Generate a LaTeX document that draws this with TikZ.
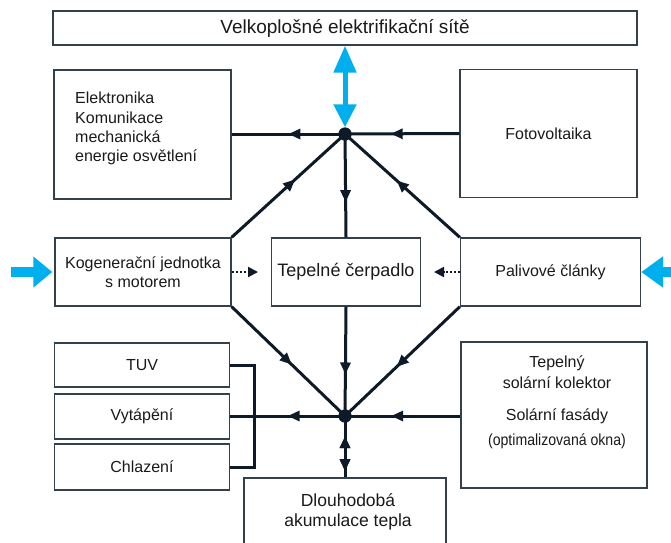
\documentclass[tikz,border=0pt]{standalone}
\usepackage{fontspec}
\setmainfont{Liberation Sans}
\newfontfamily\narrowsans[FakeStretch=0.88]{Liberation Sans}
\usetikzlibrary{arrows.meta,decorations.markings}
\definecolor{linec}{HTML}{0E1A28}
\definecolor{boxc}{HTML}{34404A}
\definecolor{bluec}{HTML}{00B0EE}
\definecolor{txtc}{HTML}{1A1A1A}
\begin{document}
\begin{tikzpicture}[x=1pt,y=-1pt,
  box/.style={draw=boxc, line width=1.4pt, fill=white, inner sep=0pt, text=txtc,
    font=\fontsize{16}{19.3}\selectfont, align=center},
  txt/.style={text=txtc, font=\fontsize{16}{19.3}\selectfont, inner sep=0pt},
  flow/.style={draw=linec, line width=3pt},
  tipk/.tip={Triangle[length=12pt,width=10pt]},
  midarr/.style={postaction={decorate}, decoration={markings,
    mark=at position #1 with {\arrow{tipk}}}},
  midrev/.style={postaction={decorate}, decoration={markings,
    mark=at position #1 with {\arrowreversed{tipk}}}},
  dot/.style={circle, fill=linec, inner sep=0pt, minimum size=13pt},
  bluearr/.style={draw=bluec, color=bluec}
]
\useasboundingbox (0,0) rectangle (671,542);

% boxes
\node[box, minimum width=584pt, minimum height=34pt, font=\fontsize{19}{22}\selectfont] (grid) at (345,28) {Velkoplošné elektrifikační sítě};
\node[box, minimum width=177pt, minimum height=129pt] (elek) at (142.5,134.5) {};
\node[txt, align=left, anchor=west] at (75,129) {\begin{tabular}{@{}l@{}}Elektronika\\Komunikace\\mechanická\\energie osvětlení\end{tabular}};
\node[box, minimum width=177pt, minimum height=128pt] (foto) at (548.5,133.5) {Fotovoltaika};
\node[box, minimum width=176pt, minimum height=68pt] (kog) at (143,272) {Kogenerační jednotka\\s motorem};
\node[box, minimum width=149pt, minimum height=68pt, font=\fontsize{18}{21}\selectfont] (cerp) at (346,272) {Tepelné čerpadlo};
\node[box, minimum width=180pt, minimum height=68pt] (pal) at (550.5,272) {Palivové články};
\node[box, minimum width=175pt, minimum height=44pt] (tuv) at (142,365) {TUV};
\node[box, minimum width=175pt, minimum height=45pt] (vyt) at (142,416.5) {Vytápění};
\node[box, minimum width=175pt, minimum height=46pt] (chl) at (142,467) {Chlazení};
\node[box, minimum width=186pt, minimum height=146pt] (sol) at (554,415) {};
\node[txt, align=center] at (557,402) {Tepelný\\[2pt]solární kolektor\\[13pt]Solární fasády\\[5pt]{\narrowsans\fontsize{16}{19}\selectfont(optimalizovaná okna)}};
\node[box, minimum width=202pt, minimum height=76pt] (dl) at (345,516) {};
\node[txt, align=center, font=\fontsize{17.5}{20.5}\selectfont] at (348,512) {Dlouhodobá\\akumulace tepla};

% junctions
\node[dot] (j1) at (345,134) {};
\node[dot] (j2) at (345,416) {};

% upper flows
\draw[flow, midarr=0.6] (foto.west) -- (j1.center);
\draw[flow, midarr=0.5] (j1.center) -- (elek.east |- j1);
\draw[flow, midarr=0.56] (kog.north east) -- (j1.center);
\draw[flow, midarr=0.55] (pal.north west) -- (j1.center);
\draw[flow, midarr=0.66] (j1.center) -- (cerp.north);

% lower flows
\draw[flow, midarr=0.53] (kog.south east) -- (j2.center);
\draw[flow, midarr=0.55] (pal.south west) -- (j2.center);
\draw[flow, midarr=0.62] (cerp.south) -- (j2.center);
\draw[flow, midarr=0.6] (sol.west |- j2) -- (j2.center);
\draw[flow, midarr=0.5] (j2.center) -- (vyt.east |- j2);
\draw[flow, midrev=0.33, midarr=0.9] (j2.center) -- (dl.north);
\draw[flow] (tuv.east) -- ++(24,0) |- (chl.east);

\node[dot] at (j1) {};
\node[dot] at (j2) {};

% dotted arrows
\coordinate (kd) at (258,272);
\coordinate (pd) at (434,272);
\draw[linec, line width=2pt, dotted, -{Triangle[length=10pt,width=10pt]}] (kog.east) -- (kd);
\draw[linec, line width=2pt, dotted, -{Triangle[length=10pt,width=10pt]}] (pal.west) -- (pd);

% blue arrows
\draw[bluearr, line width=5pt, {Triangle[length=27pt,width=22pt]}-{Triangle[length=23pt,width=22pt]}] (grid.south) -- (j1.north);
\coordinate (bl) at (11,272);
\coordinate (br) at (675,272);
\draw[bluearr, line width=10pt, -{Triangle[length=19pt,width=30pt]}, shorten >=2pt] (bl) -- (kog.west);
\draw[bluearr, line width=10pt, -{Triangle[length=22pt,width=30pt]}] (br) -- (pal.east);
\end{tikzpicture}
\end{document}
